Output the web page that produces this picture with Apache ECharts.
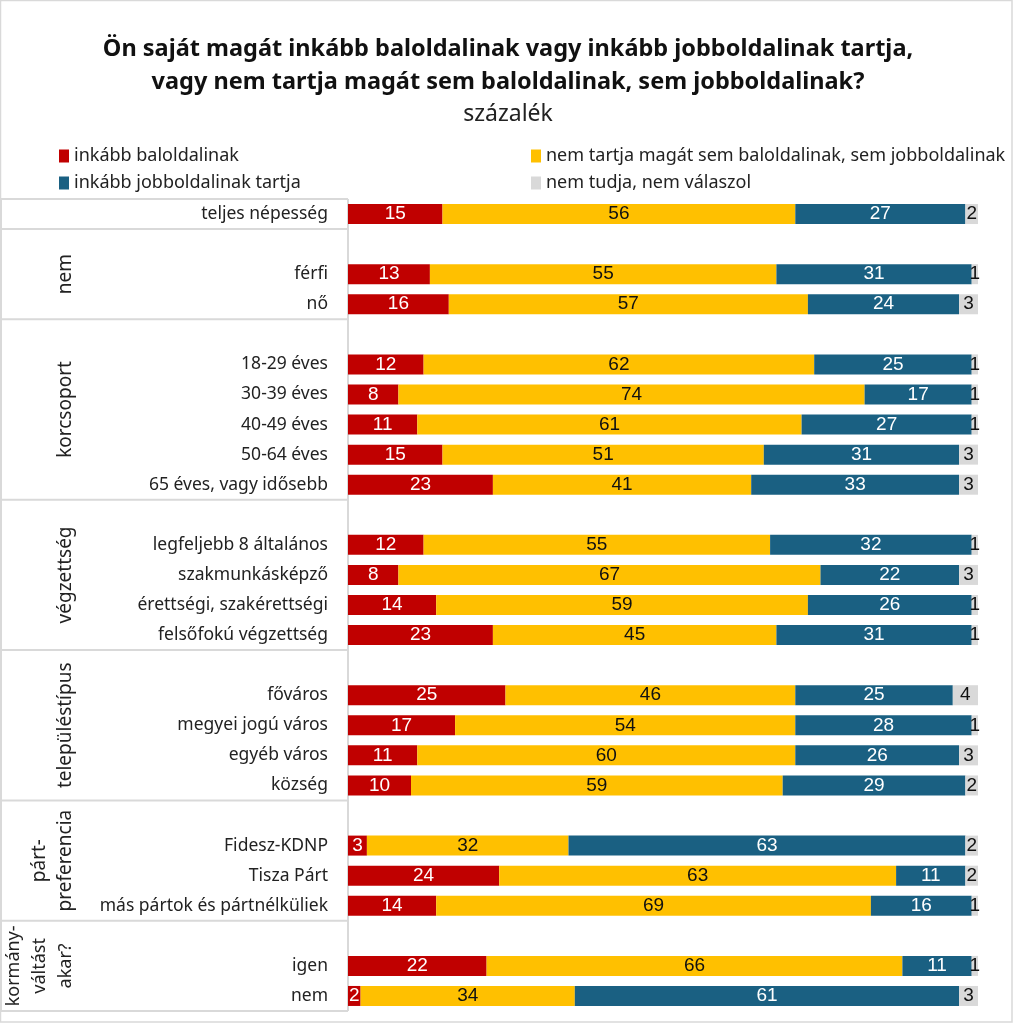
<!DOCTYPE html>
<html><head><meta charset="utf-8">
<script src="https://cdn.jsdelivr.net/npm/echarts@6/dist/echarts.min.js"></script>
<style>html,body{margin:0;padding:0;background:#fff}#c{width:1016px;height:1024px}</style>
</head><body><div id="c"></div>
<script>
const categories = ['teljes népesség','', 'férfi','nő','', '18-29 éves','30-39 éves','40-49 éves','50-64 éves','65 éves, vagy idősebb','', 'legfeljebb 8 általános','szakmunkásképző','érettségi, szakérettségi','felsőfokú végzettség','', 'főváros','megyei jogú város','egyéb város','község','', 'Fidesz-KDNP','Tisza Párt','más pártok és pártnélküliek','', 'igen','nem'];
const left  = [15,null, 13,16,null, 12,8,11,15,23,null, 12,8,14,23,null, 25,17,11,10,null, 3,24,14,null, 22,2];
const neutral=[56,null, 55,57,null, 62,74,61,51,41,null, 55,67,59,45,null, 46,54,60,59,null, 32,63,69,null, 66,34];
const right = [27,null, 31,24,null, 25,17,27,31,33,null, 32,22,26,31,null, 25,28,26,29,null, 63,11,16,null, 11,61];
const dk    = [2,null, 1,3,null, 1,1,1,3,3,null, 1,3,1,1,null, 4,1,3,2,null, 2,2,1,null, 1,3];
const seriesNames = ['inkább baloldalinak','nem tartja magát sem baloldalinak, sem jobboldalinak','inkább jobboldalinak tartja','nem tudja, nem válaszol'];
const groupLabels = [
  {text:'nem', from:1, to:3},
  {text:'korcsoport', from:4, to:9},
  {text:'végzettség', from:10, to:14},
  {text:'településtípus', from:15, to:19},
  {text:'párt-\npreferencia', from:20, to:23},
  {text:'kormány-\nváltást\nakar?', from:24, to:26}
];
const tableBreaks = [0,1,4,10,15,20,24,27]; // line drawn above these rows

const colors = ['#C00000','#FFC000','#1A6082','#D9D9D9'];
const labelColors = ['#fff','#111','#fff','#111'];
const FONT = 'Noto Sans';
const chart = echarts.init(document.getElementById('c'), null, {renderer:'canvas'});
const datas = [left, neutral, right, dk];
const option = {
  animation:false,
  backgroundColor:'#fff',
  title:{
    text:'Ön saját magát inkább baloldalinak vagy inkább jobboldalinak tartja,\nvagy nem tartja magát sem baloldalinak, sem jobboldalinak?',
    subtext:'százalék',
    left:'center', top:28, itemGap:0,
    textStyle:{fontFamily:FONT, fontSize:23.5, fontWeight:'bold', color:'#111', lineHeight:33},
    subtextStyle:{fontFamily:FONT, fontSize:23, color:'#222', lineHeight:30}
  },
  legend:[
    {data:[seriesNames[0],seriesNames[2]], orient:'vertical', left:54, top:142, itemGap:9, itemWidth:10, itemHeight:13, icon:'rect',
     textStyle:{fontFamily:FONT, fontSize:18, color:'#222'}},
    {data:[seriesNames[1],seriesNames[3]], orient:'vertical', left:526, top:142, itemGap:9, itemWidth:10, itemHeight:13, icon:'rect',
     textStyle:{fontFamily:FONT, fontSize:18, color:'#222'}}
  ],
  grid:{left:348, right:38, top:199, bottom:13, containLabel:false},
  xAxis:{type:'value', min:0, max:100, show:false},
  yAxis:{type:'category', data:categories, inverse:true,
    axisLine:{show:false}, axisTick:{show:false}, splitLine:{show:false},
    axisLabel:{fontFamily:FONT, fontSize:17.5, color:'#222', margin:20}},
  series: seriesNames.map((n,i)=>({
    name:n, type:'bar', stack:'t', data:datas[i], barWidth:20,
    itemStyle:{color:colors[i]},
    label:{show:true, position:'inside', color:labelColors[i], fontFamily:'Liberation Sans', fontSize:19,
      formatter:p=> p.value==null?'':String(p.value)}
  }))
};
chart.setOption(option);

function py(i){ return chart.convertToPixel({yAxisIndex:0}, i); }
const step = py(1)-py(0);
function boundary(i){ return py(i) - step/2; }
const g = [];
const lineStyle = {stroke:'#D9D9D9', lineWidth:2};
g.push({type:'rect', shape:{x:0.5,y:0.5,width:1011.5,height:1021.5}, style:{fill:null, stroke:'#D9D9D9', lineWidth:1.5}, silent:true});
tableBreaks.forEach(r=>{
  const y = boundary(r);
  g.push({type:'line', shape:{x1:0,y1:y,x2:348,y2:y}, style:lineStyle, silent:true});
});
g.push({type:'line', shape:{x1:348,y1:boundary(0),x2:348,y2:boundary(27)}, style:lineStyle, silent:true});
g.push({type:'line', shape:{x1:1,y1:boundary(0),x2:1,y2:boundary(27)}, style:lineStyle, silent:true});
groupLabels.forEach(gl=>{
  const yc = (boundary(gl.from)+boundary(gl.to+1))/2;
  const nLines = gl.text.split('\n').length;
  g.push({type:'text', x:79, y:yc, rotation:Math.PI/2,
    style:{text:gl.text, fontFamily:FONT, fontSize: nLines>2 ? 18 : 19, fill:'#222', align:'center', verticalAlign:'bottom', lineHeight:26},
    silent:true});
});
chart.setOption({graphic:{elements:g}});
</script></body></html>
